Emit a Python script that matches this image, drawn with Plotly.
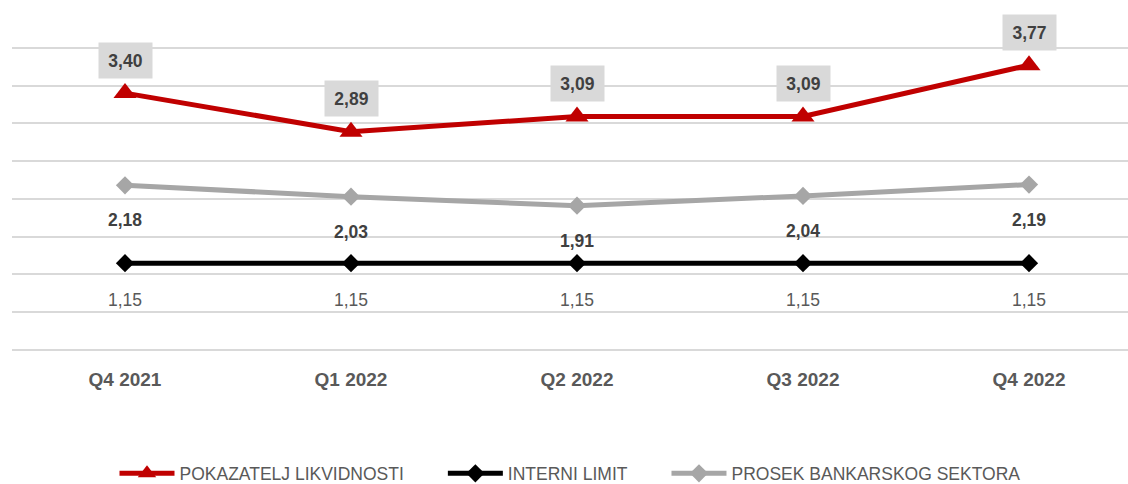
import plotly.graph_objects as go

categories = ["Q4 2021", "Q1 2022", "Q2 2022", "Q3 2022", "Q4 2022"]
pokazatelj = [3.40, 2.89, 3.09, 3.09, 3.77]
interni = [1.15, 1.15, 1.15, 1.15, 1.15]
prosek = [2.18, 2.03, 1.91, 2.04, 2.19]
names = ["POKAZATELJ LIKVIDNOSTI", "INTERNI LIMIT", "PROSEK BANKARSKOG SEKTORA"]
y_ticks = [0, 0.5, 1.0, 1.5, 2.0, 2.5, 3.0, 3.5, 4.0]

FONT = "Liberation Sans, Arial, sans-serif"
GAP = "\u00a0" * 7  # spacing between legend entries

def fmt(v):
    return f"{v:.2f}".replace(".", ",")

xs = list(range(len(categories)))

fig = go.Figure()
fig.add_trace(go.Scatter(x=xs, y=pokazatelj, name=names[0] + GAP, mode="lines+markers",
                         line=dict(color="#C00000", width=5),
                         marker=dict(symbol="triangle-up", size=20, color="#C00000")))
fig.add_trace(go.Scatter(x=xs, y=interni, name=names[1] + GAP, mode="lines+markers",
                         line=dict(color="#000000", width=5),
                         marker=dict(symbol="diamond", size=14, color="#000000")))
fig.add_trace(go.Scatter(x=xs, y=prosek, name=names[2], mode="lines+markers",
                         line=dict(color="#A6A6A6", width=5),
                         marker=dict(symbol="diamond", size=14, color="#A6A6A6")))

ann = []
for x, v in zip(xs, pokazatelj):
    ann.append(dict(x=x, y=v, xref="x", yref="y", text=fmt(v), showarrow=False,
                    yshift=33, bgcolor="#D9D9D9", width=51, height=33,
                    font=dict(family=FONT, size=17.5, color="#404040", weight="bold")))
for x, v in zip(xs, prosek):
    ann.append(dict(x=x, y=v, xref="x", yref="y", text=fmt(v), showarrow=False,
                    yshift=-35,
                    font=dict(family=FONT, size=17.5, color="#404040", weight="bold")))
for x, v in zip(xs, interni):
    ann.append(dict(x=x, y=v, xref="x", yref="y", text=fmt(v), showarrow=False,
                    yshift=-37,
                    font=dict(family=FONT, size=17.5, color="#595959")))

fig.update_layout(
    width=1128, height=484,
    margin=dict(l=12, r=0, t=10, b=132, autoexpand=False),
    paper_bgcolor="white", plot_bgcolor="white",
    annotations=ann,
    showlegend=True,
    legend=dict(orientation="h", x=0.5, xanchor="center", y=-0.355, yanchor="middle",
                font=dict(family=FONT, size=17.5, color="#595959"),
                itemwidth=55, traceorder="normal"),
    xaxis=dict(range=[-0.5, 4.438], tickvals=xs, ticktext=categories,
               showgrid=False, zeroline=False, showline=False, automargin=False,
               tickfont=dict(family=FONT, size=19, color="#595959", weight="bold"),
               ticks="", ticklabelstandoff=14),
    yaxis=dict(range=[-0.026, 4.5], tickvals=y_ticks, showticklabels=False, automargin=False,
               showgrid=True, gridcolor="#D9D9D9", gridwidth=2, zeroline=False, showline=False),
)

fig.write_html("out.html", config={"displayModeBar": False},
               post_script="document.body.style.margin='0';")
